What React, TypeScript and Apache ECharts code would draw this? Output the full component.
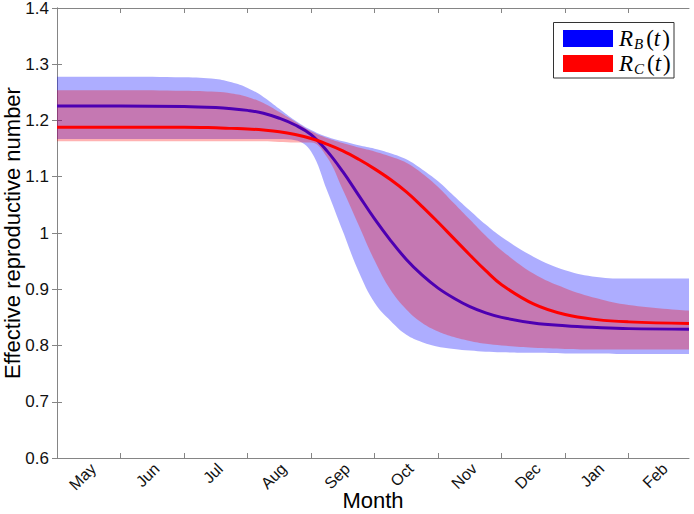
import React, { useEffect, useRef } from 'react';
import * as echarts from 'echarts';

// time in months since start of May
const T = [0, 1, 2, 2.5, 2.75, 3, 3.25, 3.5, 3.75, 4, 4.25, 4.5, 4.75, 5, 5.25, 5.5, 5.75, 6, 6.25, 6.5, 6.75, 7, 7.5, 8, 8.5, 9, 9.95];

// R_B(t) central estimate and band
const RB = [1.226, 1.226, 1.225, 1.223, 1.221, 1.218, 1.213, 1.204, 1.192, 1.175, 1.146, 1.109, 1.067, 1.025, 0.987, 0.953, 0.925, 0.902, 0.884, 0.869, 0.858, 0.850, 0.840, 0.835, 0.832, 0.830, 0.829];
const RB_HI = [1.278, 1.278, 1.277, 1.274, 1.268, 1.258, 1.242, 1.221, 1.200, 1.183, 1.171, 1.163, 1.156, 1.150, 1.142, 1.131, 1.113, 1.092, 1.066, 1.040, 1.015, 0.993, 0.958, 0.934, 0.922, 0.919, 0.919];
const RB_LO = [1.167, 1.167, 1.167, 1.167, 1.167, 1.167, 1.167, 1.167, 1.165, 1.145, 1.076, 1.003, 0.931, 0.876, 0.844, 0.819, 0.806, 0.798, 0.794, 0.791, 0.789, 0.788, 0.787, 0.786, 0.786, 0.785, 0.785];

// R_C(t) central estimate and band
const RC = [1.188, 1.188, 1.188, 1.187, 1.186, 1.185, 1.183, 1.180, 1.175, 1.168, 1.158, 1.146, 1.131, 1.114, 1.095, 1.073, 1.047, 1.019, 0.990, 0.961, 0.933, 0.908, 0.874, 0.855, 0.846, 0.842, 0.839];
const RC_HI = [1.254, 1.254, 1.253, 1.251, 1.248, 1.242, 1.231, 1.215, 1.198, 1.181, 1.169, 1.160, 1.152, 1.145, 1.136, 1.125, 1.106, 1.082, 1.053, 1.024, 0.995, 0.969, 0.928, 0.902, 0.884, 0.872, 0.862];
const RC_LO = [1.163, 1.163, 1.163, 1.163, 1.163, 1.163, 1.163, 1.162, 1.161, 1.161, 1.135, 1.077, 1.014, 0.951, 0.899, 0.864, 0.840, 0.825, 0.815, 0.808, 0.803, 0.800, 0.796, 0.794, 0.793, 0.793, 0.793];

const MONTHS = ['May', 'Jun', 'Jul', 'Aug', 'Sep', 'Oct', 'Nov', 'Dec', 'Jan', 'Feb'];
const MONTH_TICKS = [1, 2, 3, 4, 5, 6, 7, 8, 9];
const X_MAX = 9.95;

const FONT = "'Liberation Sans', Arial, Helvetica, sans-serif";
const SERIF = "'Liberation Serif', 'Times New Roman', serif";
const AXIS_GRAY = '#858585';

export default function App() {
  const ref = useRef<HTMLDivElement>(null);

  useEffect(() => {
    if (!ref.current) return;
    const chart = echarts.init(ref.current, null, { renderer: 'svg' });

    const pair = (arr: number[]) => arr.map((v, i) => [v, T[i]]);
    const bandB = RB_HI.map((v, i) => +(v - RB_LO[i]).toFixed(4));
    const bandC = RC_HI.map((v, i) => +(v - RC_LO[i]).toFixed(4));
    const labelPos = MONTHS.map((_, i) => i + 0.57);

    const common: any = {
      type: 'line',
      symbol: 'none',
      showSymbol: false,
      smooth: 0.4,
      encode: { x: 1, y: 0 },
      silent: true,
    };
    const hiddenLine = { width: 0, opacity: 0 };

    const rich = {
      i: { fontFamily: SERIF, fontStyle: 'italic', fontSize: 23, lineHeight: 26, verticalAlign: 'middle', fill: '#000' },
      n: { fontFamily: SERIF, fontSize: 23, lineHeight: 26, verticalAlign: 'middle', fill: '#000', padding: [0, 0, 0, 2] },
      s: { fontFamily: SERIF, fontStyle: 'italic', fontSize: 15, lineHeight: 14, verticalAlign: 'bottom', fill: '#000', padding: [0, 1, 0, 1] },
    };

    chart.setOption({
      animation: false,
      backgroundColor: '#ffffff',
      grid: { left: 57, right: 5, top: 8, bottom: 56, containLabel: false, outerBoundsMode: 'none' },
      xAxis: [
        {
          type: 'value',
          min: 0,
          max: X_MAX,
          position: 'bottom',
          name: 'Month',
          nameLocation: 'middle',
          nameGap: 31,
          nameMoveOverlap: false,
          nameTextStyle: { fontFamily: FONT, fontSize: 22, color: '#000' },
          axisLine: { show: true, lineStyle: { color: AXIS_GRAY, width: 1 } },
          axisTick: { show: true, inside: true, length: 5, customValues: MONTH_TICKS, lineStyle: { color: AXIS_GRAY } },
          axisLabel: {
            show: true,
            rotate: 45,
            margin: 8,
            customValues: labelPos,
            formatter: (v: number) => MONTHS[Math.floor(v)] ?? '',
            fontFamily: FONT,
            fontSize: 16,
            color: '#111',
          },
          splitLine: { show: false },
        },
        {
          type: 'value',
          min: 0,
          max: X_MAX,
          position: 'top',
          axisLine: { show: true, lineStyle: { color: AXIS_GRAY, width: 1 } },
          axisTick: { show: true, inside: true, length: 5, customValues: MONTH_TICKS, lineStyle: { color: AXIS_GRAY } },
          axisLabel: { show: false },
          splitLine: { show: false },
        },
      ],
      yAxis: [
        {
          type: 'value',
          min: 0.6,
          max: 1.4,
          interval: 0.1,
          position: 'left',
          name: 'Effective reproductive number',
          nameLocation: 'middle',
          nameGap: 34,
          nameMoveOverlap: false,
          nameTextStyle: { fontFamily: FONT, fontSize: 22, color: '#000' },
          axisLine: { show: true, lineStyle: { color: AXIS_GRAY, width: 1 } },
          axisTick: { show: true, inside: true, length: 5, lineStyle: { color: AXIS_GRAY } },
          axisLabel: {
            margin: 8,
            fontFamily: FONT,
            fontSize: 17,
            color: '#111',
            formatter: (v: number) => String(+v.toFixed(1)),
          },
          splitLine: { show: false },
        },
        {
          type: 'value',
          min: 0.6,
          max: 1.4,
          interval: 0.1,
          position: 'right',
          axisLine: { show: true, lineStyle: { color: AXIS_GRAY, width: 1 } },
          axisTick: { show: true, inside: true, length: 5, lineStyle: { color: AXIS_GRAY } },
          axisLabel: { show: false },
          splitLine: { show: false },
        },
      ],
      series: [
        { ...common, z: 2, name: 'RB_lo', stack: 'B', data: pair(RB_LO), lineStyle: hiddenLine },
        { ...common, z: 2, name: 'RB_band', stack: 'B', data: pair(bandB), lineStyle: hiddenLine, areaStyle: { color: '#0000ff', opacity: 0.32 } },
        { ...common, z: 3, name: 'R_B(t)', data: pair(RB), lineStyle: { color: '#0000ff', width: 3 }, itemStyle: { color: '#0000ff' } },
        { ...common, z: 4, name: 'RC_lo', stack: 'C', data: pair(RC_LO), lineStyle: hiddenLine },
        { ...common, z: 4, name: 'RC_band', stack: 'C', data: pair(bandC), lineStyle: hiddenLine, areaStyle: { color: '#ff0000', opacity: 0.3 } },
        { ...common, z: 5, name: 'R_C(t)', data: pair(RC), lineStyle: { color: '#ff0000', width: 3 }, itemStyle: { color: '#ff0000' } },
      ],
      graphic: [
        {
          type: 'rect',
          z: 100,
          shape: { x: 553.5, y: 22.5, width: 120.5, height: 55.5 },
          style: { fill: '#ffffff', stroke: '#333333', lineWidth: 1 },
        },
        { type: 'rect', z: 101, shape: { x: 563, y: 30, width: 50, height: 17 }, style: { fill: '#0000ff' } },
        { type: 'rect', z: 101, shape: { x: 563, y: 55, width: 50, height: 17 }, style: { fill: '#ff0000' } },
        {
          type: 'text',
          z: 101,
          x: 619,
          y: 38.5,
          style: { text: '{i|R}{s|B}{n|(}{i|t}{n|)}', rich, verticalAlign: 'middle', align: 'left' },
        },
        {
          type: 'text',
          z: 101,
          x: 619,
          y: 63.5,
          style: { text: '{i|R}{s|C}{n|(}{i|t}{n|)}', rich, verticalAlign: 'middle', align: 'left' },
        },
      ],
    });

    return () => chart.dispose();
  }, []);

  return (
    <div
      ref={ref}
      style={{ position: 'fixed', left: 0, top: 0, width: 694, height: 514, background: '#fff' }}
    />
  );
}
